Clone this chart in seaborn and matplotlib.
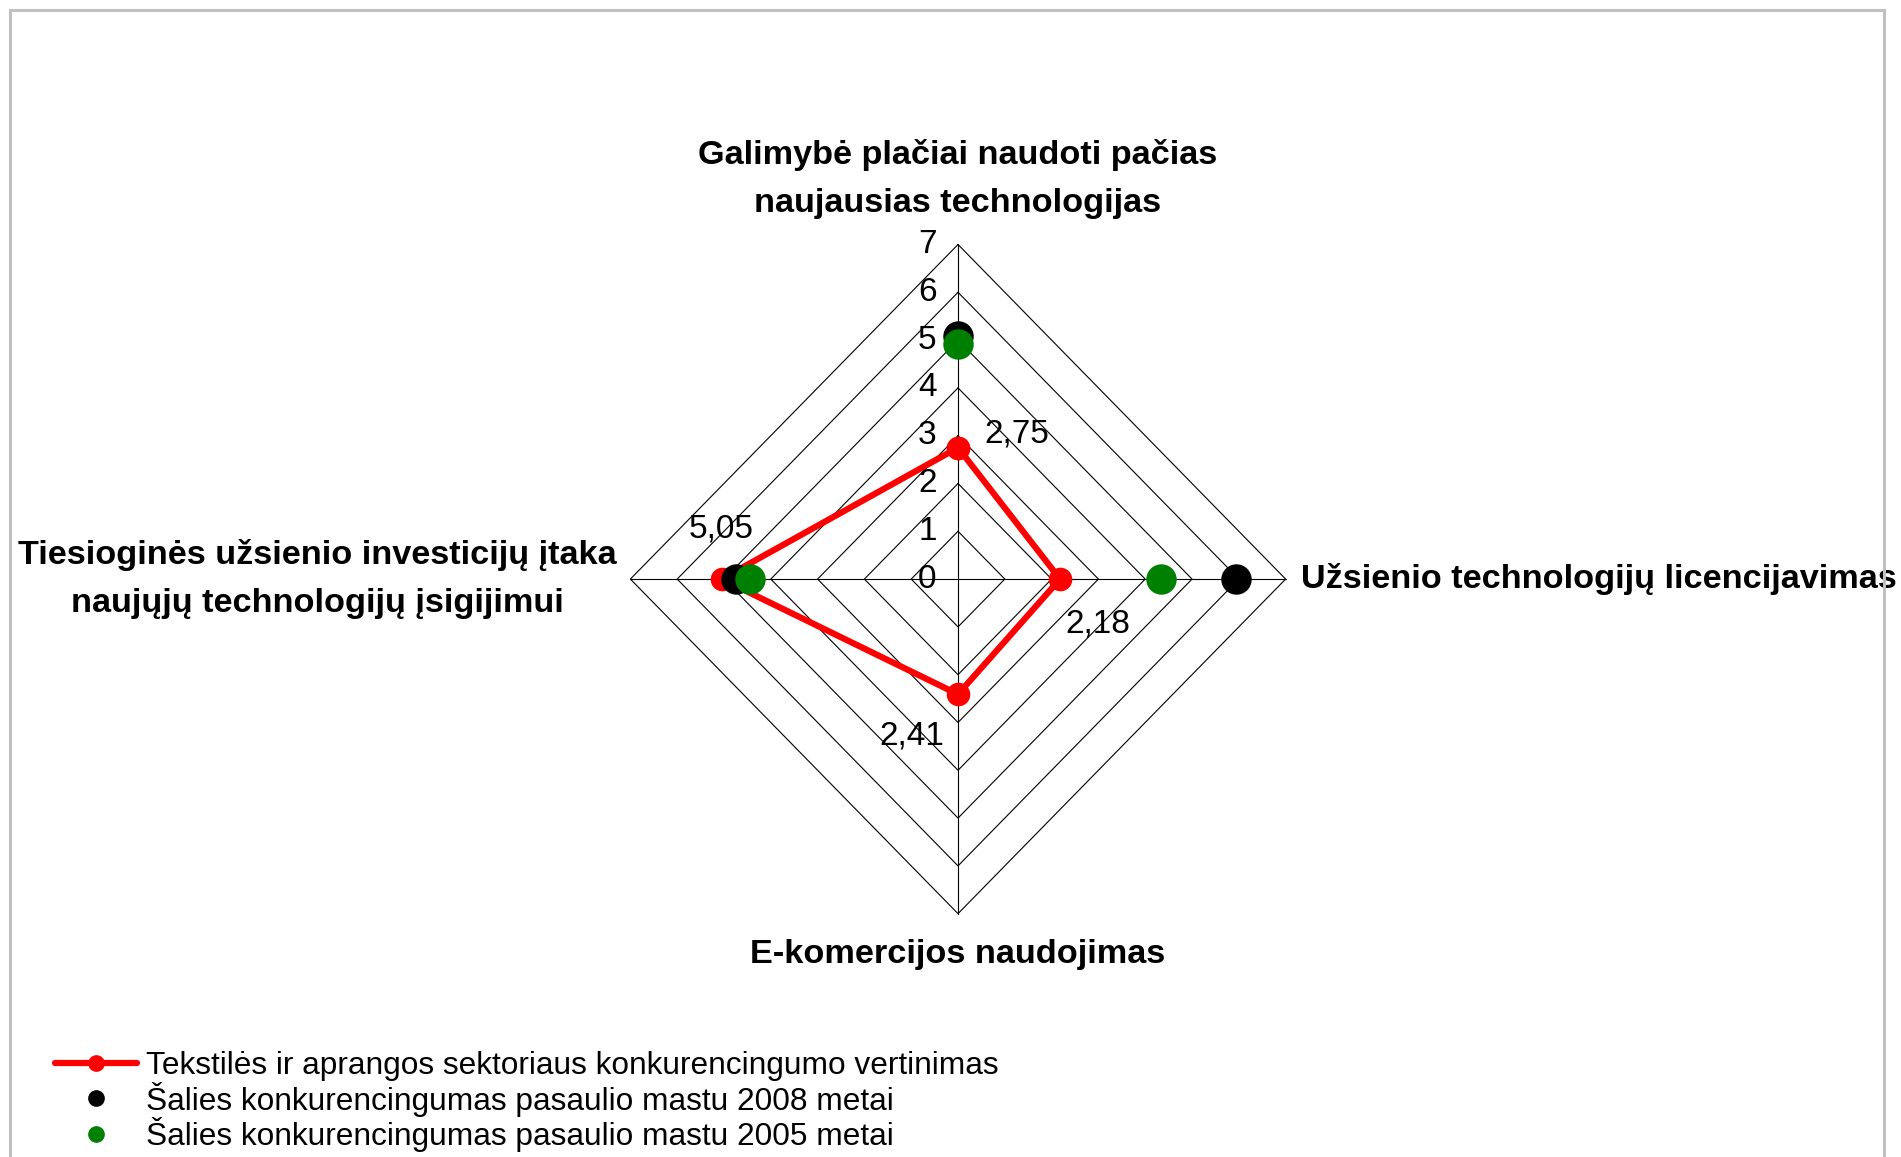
import matplotlib
matplotlib.use("Agg")
import matplotlib.pyplot as plt
import seaborn as sns
import pandas as pd
import numpy as np
from matplotlib.patches import Rectangle
from matplotlib.lines import Line2D

# axes of the radar, clockwise from the top
categories = [
    "Galimybė plačiai naudoti pačias\nnaujausias technologijas",
    "Užsienio technologijų licencijavimas",
    "E-komercijos naudojimas",
    "Tiesioginės užsienio investicijų įtaka\nnaujųjų technologijų įsigijimui",
]
sector_values = [2.75, 2.18, 2.41, 5.05]
country_2008 = [5.08, 5.95, np.nan, 4.75]
country_2005 = [4.92, 4.33, np.nan, 4.45]
sector_labels = ["2,75", "2,18", "2,41", "5,05"]
tick_values = [0, 1, 2, 3, 4, 5, 6, 7]
series_names = [
    "Tekstilės ir aprangos sektoriaus konkurencingumo vertinimas",
    "Šalies konkurencingumas pasaulio mastu 2008 metai",
    "Šalies konkurencingumas pasaulio mastu 2005 metai",
]

sns.set_theme(style="white")
plt.rcParams["font.family"] = ["Liberation Sans", "DejaVu Sans"]
plt.rcParams["text.color"] = "black"

angles = np.deg2rad([90, 0, -90, 180])


def to_xy(values):
    v = np.asarray(values, dtype=float)
    return v * np.cos(angles), v * np.sin(angles)


fig = plt.figure(figsize=(19.01, 11.57), dpi=100)
ax = fig.add_axes([0.3028, 0.169, 0.4023, 0.661])
ax.set_xlim(-8.17, 8.17)
ax.set_ylim(-8, 8)
ax.axis("off")

# outer frame of the chart area
fig.patches.append(Rectangle((10 / 1901, -0.05), 1874 / 1901, 1.05 - 10 / 1157,
                             transform=fig.transFigure, fill=False,
                             edgecolor="#c0c0c0", linewidth=2.2, zorder=0))

# diamond grid and spokes
for level in tick_values[1:]:
    gx, gy = to_xy([level] * 4)
    ax.plot(np.append(gx, gx[0]), np.append(gy, gy[0]), color="black", lw=0.8, zorder=1)
for a in angles:
    ax.plot([0, 7 * np.cos(a)], [0, 7 * np.sin(a)], color="black", lw=0.8, zorder=1)

# sector line
sx, sy = to_xy(sector_values)
red = pd.DataFrame({"x": np.append(sx, sx[0]), "y": np.append(sy, sy[0])})
sns.lineplot(data=red, x="x", y="y", sort=False, estimator=None, color="#ff0000", lw=4.5,
             marker="o", markersize=17, markeredgewidth=0, ax=ax, zorder=3)

bx, by = to_xy(country_2008)
sns.scatterplot(x=bx, y=by, color="black", s=480, linewidth=0, ax=ax, zorder=4)
gx, gy = to_xy(country_2005)
sns.scatterplot(x=gx, y=gy, color="#008000", s=480, linewidth=0, ax=ax, zorder=5)

# value labels
offsets = [(42, 10), (27, -32), (-33, -30), (0, 36)]
for x, y, lab, off in zip(sx, sy, sector_labels, offsets):
    ax.annotate(lab, (x, y), xytext=off, textcoords="offset points",
                ha="center", va="center", fontsize=24, zorder=6)

# axis tick labels along the top spoke
for t in tick_values:
    ax.annotate(str(t), (0, t), xytext=(-22, 0), textcoords="offset points",
                ha="center", va="center", fontsize=24, zorder=6)

# category labels
cx, cy = to_xy([7] * 4)
ax.annotate(categories[0], (cx[0], cy[0]), xytext=(0, 18), textcoords="offset points",
            ha="center", va="bottom", fontsize=24.7, fontweight="bold", linespacing=1.72)
ax.annotate(categories[1], (cx[1], cy[1]), xytext=(11, 0), textcoords="offset points",
            ha="left", va="center", fontsize=24.7, fontweight="bold")
ax.annotate(categories[2], (cx[2], cy[2]), xytext=(0, -18), textcoords="offset points",
            ha="center", va="top", fontsize=24.7, fontweight="bold")
ax.annotate(categories[3], (cx[3], cy[3]), xytext=(-10, 0), textcoords="offset points",
            ha="right", va="center", fontsize=24.7, fontweight="bold",
            multialignment="center", linespacing=1.68)

handles = [
    Line2D([], [], color="#ff0000", lw=4.5, marker="o", markersize=11),
    Line2D([], [], color="black", lw=0, marker="o", markersize=11),
    Line2D([], [], color="#008000", lw=0, marker="o", markersize=11),
]
fig.legend(handles, series_names, loc="lower left", bbox_to_anchor=(0.0175, -0.015),
           frameon=False, fontsize=22.8, handlelength=2.56, handletextpad=0.3,
           labelspacing=0.02, borderpad=0.2)

fig.savefig("out.png", dpi=100, facecolor="white")
